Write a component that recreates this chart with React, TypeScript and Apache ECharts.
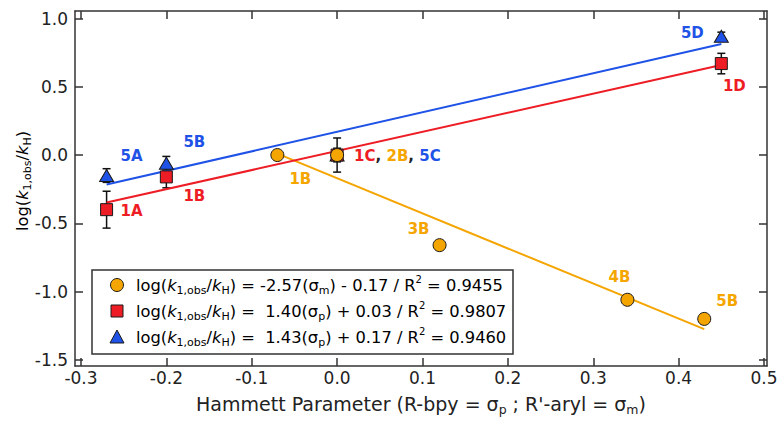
import React, { useEffect, useRef } from 'react';
import * as echarts from 'echarts';

// ---------- data ----------
const xTicks = [-0.3, -0.2, -0.1, 0.0, 0.1, 0.2, 0.3, 0.4, 0.5];
const yTicks = [-1.5, -1.0, -0.5, 0.0, 0.5, 1.0];

const orangeNames = ['1B', '2B', '3B', '4B', '5B'];
const orangeX = [-0.07, 0.0, 0.12, 0.34, 0.43];
const orangeY = [0.0, 0.0, -0.66, -1.06, -1.2];

const redNames = ['1A', '1B', '1C', '1D'];
const redX = [-0.27, -0.2, 0.0, 0.45];
const redY = [-0.4, -0.16, 0.0, 0.67];
const redErr = [0.135, 0.08, 0.125, 0.075];

const blueNames = ['5A', '5B', '5C', '5D'];
const blueX = [-0.27, -0.2, 0.0, 0.45];
const blueY = [-0.15, -0.06, 0.0, 0.87];
const blueErr = [0.05, 0.05, 0.05, 0.03];

const orangeFitX = [-0.07, 0.43];
const orangeFitY = [0.01, -1.275];
const redFitX = [-0.27, 0.45];
const redFitY = [-0.348, 0.66];
const blueFitX = [-0.27, 0.45];
const blueFitY = [-0.216, 0.814];

// ---------- style / layout ----------
const ORANGE = '#f5a500';
const RED = '#ee1c24';
const BLUE = '#1f52e6';
const INK = '#222';
const FONT = 'DejaVu Sans';

const labelOffsets: Record<string, Record<string, number[]>> = {
  orange: { '1B': [23, 24], '2B': [17, 1], '3B': [-21, -16], '4B': [-8, -23], '5B': [23, -18] },
  red: { '1A': [25, 1], '1B': [28, 19], '1D': [13, 22] },
  blue: { '5A': [25, -20], '5B': [28, -21], '5D': [-29, -3] },
};

const richBase = {
  b: { fontFamily: FONT, fontSize: 16.3, lineHeight: 22, color: INK },
  i: { fontFamily: FONT, fontSize: 16.3, lineHeight: 22, color: INK, fontStyle: 'italic' },
  s: { fontFamily: FONT, fontSize: 11, lineHeight: 12, color: INK, verticalAlign: 'bottom' },
  u: { fontFamily: FONT, fontSize: 10, lineHeight: 12, color: INK, verticalAlign: 'top' },
};

const richTitle = {
  b: { fontFamily: FONT, fontSize: 19, lineHeight: 24, color: INK },
  s: { fontFamily: FONT, fontSize: 12.5, lineHeight: 13, color: INK, verticalAlign: 'bottom' },
};

function zip(xs: number[], ys: number[]) {
  return xs.map((x, i) => [x, ys[i]]);
}

function pointItems(xs: number[], ys: number[], names: string[], color: string, group: string) {
  return xs.map((x, i) => {
    const off = labelOffsets[group][names[i]];
    const item: any = { value: [x, ys[i]], name: names[i] };
    if (off) {
      const combined = group === 'orange' && names[i] === '2B';
      const t = (c: string) => ({ color: c, fontWeight: 'bold', fontSize: 15, fontFamily: FONT, opacity: 1 });
      item.label = {
        show: true,
        position: 'inside',
        offset: off,
        align: combined ? 'left' : 'center',
        verticalAlign: 'middle',
        fontFamily: FONT,
        fontWeight: 'bold',
        fontSize: 15,
        color,
        opacity: 1,
        formatter: combined ? '{r|1C}{k|, }{o|2B}{k|, }{bl|5C}' : names[i],
        rich: combined ? { r: t(RED), o: t(ORANGE), bl: t(BLUE), k: t(INK) } : undefined,
      };
    }
    return item;
  });
}

const errData = [
  ...redX.map((x, i) => [x, redY[i], redErr[i]]),
  ...blueX.map((x, i) => [x, blueY[i], blueErr[i]]),
];

export default function App() {
  const ref = useRef<HTMLDivElement>(null);
  useEffect(() => {
    if (!ref.current) return;
    const chart = echarts.init(ref.current, undefined, { renderer: 'svg' });
    const axisLine = { show: true, onZero: false, lineStyle: { color: '#333', width: 1.5 } };
    const tick = { show: true, inside: true, length: 8, lineStyle: { color: '#333', width: 1.5 } };
    const xMin = -0.307, xMax = 0.5035, yMin = -1.545, yMax = 1.055;
    const tickLabel = { color: INK, fontFamily: FONT, fontSize: 17, formatter: (v: number) => v.toFixed(1) };

    chart.setOption({
      animation: false,
      backgroundColor: '#fff',
      grid: { left: 75, right: 14, top: 11, bottom: 53, containLabel: false },
      xAxis: [
        {
          type: 'value', min: xMin, max: xMax, position: 'bottom',
          axisLine, axisTick: { ...tick, customValues: xTicks }, splitLine: { show: false },
          axisLabel: { ...tickLabel, customValues: xTicks, margin: 3 },
          name: '{b|Hammett Parameter (R-bpy = σ}{s|p}{b| ; R\'-aryl = σ}{s|m}{b|)}',
          nameLocation: 'middle', nameGap: 26,
          nameTextStyle: { rich: richTitle },
        },
        {
          type: 'value', min: xMin, max: xMax, position: 'top',
          axisLine, axisTick: { ...tick, customValues: xTicks }, splitLine: { show: false },
          axisLabel: { show: false },
        },
      ],
      yAxis: [
        {
          type: 'value', min: yMin, max: yMax, position: 'left',
          axisLine, axisTick: { ...tick, customValues: yTicks }, splitLine: { show: false },
          axisLabel: { ...tickLabel, customValues: yTicks, margin: 7 },
        },
        {
          type: 'value', min: yMin, max: yMax, position: 'right',
          axisLine, axisTick: { ...tick, customValues: yTicks }, splitLine: { show: false },
          axisLabel: { show: false },
        },
      ],
      series: [
        {
          type: 'custom', z: 2, data: errData, encode: { x: 0, y: 1 },
          renderItem: (params: any, api: any) => {
            const x = api.value(0), y = api.value(1), e = api.value(2);
            const top = api.coord([x, y + e]);
            const bot = api.coord([x, y - e]);
            const w = 4;
            const style = { stroke: '#111', lineWidth: 1.5 };
            return {
              type: 'group',
              children: [
                { type: 'line', shape: { x1: top[0], y1: top[1], x2: bot[0], y2: bot[1] }, style },
                { type: 'line', shape: { x1: top[0] - w, y1: top[1], x2: top[0] + w, y2: top[1] }, style },
                { type: 'line', shape: { x1: bot[0] - w, y1: bot[1], x2: bot[0] + w, y2: bot[1] }, style },
              ],
            };
          },
        },
        { type: 'line', z: 3, data: zip(orangeFitX, orangeFitY), symbol: 'none', lineStyle: { color: ORANGE, width: 2 } },
        { type: 'line', z: 3, data: zip(redFitX, redFitY), symbol: 'none', lineStyle: { color: RED, width: 2 } },
        { type: 'line', z: 3, data: zip(blueFitX, blueFitY), symbol: 'none', lineStyle: { color: BLUE, width: 2 } },
        {
          type: 'scatter', z: 4, symbol: 'triangle', symbolSize: [14, 12],
          itemStyle: { color: BLUE, borderColor: '#1a1a1a', borderWidth: 1, opacity: 1 },
          data: pointItems(blueX, blueY, blueNames, BLUE, 'blue'),
        },
        {
          type: 'scatter', z: 5, symbol: 'rect', symbolSize: 12,
          itemStyle: { color: RED, borderColor: '#1a1a1a', borderWidth: 1, opacity: 1 },
          data: pointItems(redX, redY, redNames, RED, 'red'),
        },
        {
          type: 'scatter', z: 6, symbol: 'circle', symbolSize: 13,
          itemStyle: { color: ORANGE, borderColor: '#1a1a1a', borderWidth: 1, opacity: 1 },
          data: pointItems(orangeX, orangeY, orangeNames, ORANGE, 'orange'),
        },
      ],
      graphic: [
        {
          type: 'text', x: 22, y: 181, rotation: Math.PI / 2, z: 10,
          style: {
            text: '{b|log(}{i|k}{s|1,obs}{b|/}{i|k}{s|H}{b|)}',
            rich: richBase, align: 'center', verticalAlign: 'middle',
          },
        },
        {
          type: 'group', z: 20,
          children: [
            { type: 'rect', shape: { x: 92, y: 270, width: 421, height: 84 }, style: { fill: '#fff', stroke: '#333', lineWidth: 1.5 } },
            { type: 'circle', shape: { cx: 117, cy: 285, r: 6.5 }, style: { fill: ORANGE, stroke: '#1a1a1a', lineWidth: 1 } },
            { type: 'rect', shape: { x: 111, y: 305, width: 12, height: 12 }, style: { fill: RED, stroke: '#1a1a1a', lineWidth: 1 } },
            { type: 'polygon', shape: { points: [[117, 330], [110, 343], [124, 343]] }, style: { fill: BLUE, stroke: '#1a1a1a', lineWidth: 1 } },
            {
              type: 'text', x: 136, y: 285,
              style: {
                text: '{b|log(}{i|k}{s|1,obs}{b|/}{i|k}{s|H}{b|) = -2.57(σ}{s|m}{b|) - 0.17 / R}{u|2}{b| = 0.9455}',
                rich: richBase, verticalAlign: 'middle',
              },
            },
            {
              type: 'text', x: 136, y: 311,
              style: {
                text: '{b|log(}{i|k}{s|1,obs}{b|/}{i|k}{s|H}{b|) =  1.40(σ}{s|p}{b|) + 0.03 / R}{u|2}{b| = 0.9807}',
                rich: richBase, verticalAlign: 'middle',
              },
            },
            {
              type: 'text', x: 136, y: 337,
              style: {
                text: '{b|log(}{i|k}{s|1,obs}{b|/}{i|k}{s|H}{b|) =  1.43(σ}{s|p}{b|) + 0.17 / R}{u|2}{b| = 0.9460}',
                rich: richBase, verticalAlign: 'middle',
              },
            },
          ],
        },
      ],
    });
    return () => chart.dispose();
  }, []);
  return <div ref={ref} style={{ position: 'fixed', left: 0, top: 0, width: 781, height: 421 }} />;
}
